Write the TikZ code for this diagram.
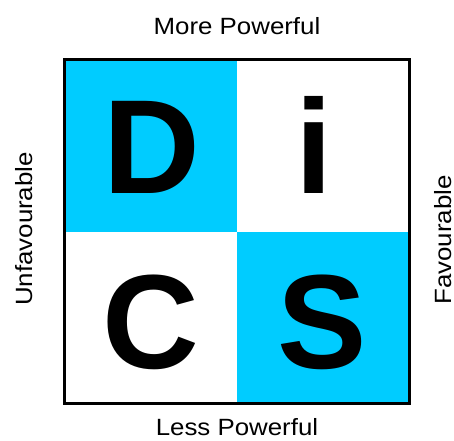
\documentclass[tikz,border=0pt]{standalone}
\usepackage{fontspec}
\setmainfont{Liberation Sans}
\newfontfamily\labelfont[FakeStretch=1.1]{Liberation Sans}
\definecolor{discblue}{HTML}{00CCFF}
\begin{document}
\begin{tikzpicture}[x=1pt,y=-1pt,
  letter/.style={font=\fontsize{134}{134}\selectfont\bfseries, inner sep=0pt, anchor=base},
  axislabel/.style={font=\labelfont\fontsize{23.5}{23.5}\selectfont, inner sep=0pt, anchor=base}]
\useasboundingbox (0,0) rectangle (454,440);
\fill[discblue] (64.5,59.5) rectangle (237,231.5);
\fill[discblue] (237,231.5) rectangle (409.5,403.5);
\draw[line width=3pt] (64.5,59.5) rectangle (409.5,403.5);
\node[letter] (D) at (152,193.5) {D};
\node[letter] (i) at (314,193.5) {i};
\node[letter] (C) at (151,368.5) {C};
\node[letter] (S) at (322,368.5) {S};
\node[axislabel] (top) at (237,34) {More Powerful};
\node[axislabel] (bottom) at (237,435) {Less Powerful};
\node[axislabel, rotate=90] (left) at (32,229) {Unfavourable};
\node[axislabel, rotate=90] (right) at (451,240) {Favourable};
\end{tikzpicture}
\end{document}
